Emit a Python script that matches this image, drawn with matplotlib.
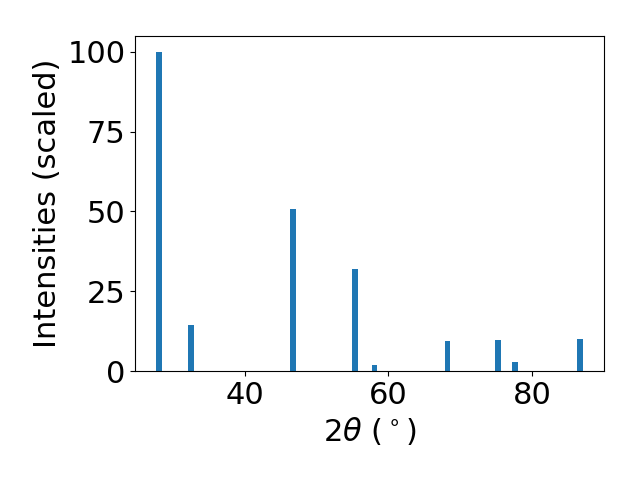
import matplotlib
matplotlib.use("Agg")
import matplotlib.pyplot as plt

two_theta = [28.04, 32.52, 46.71, 55.38, 58.04, 68.25, 75.31, 77.62, 86.71]
intensities = [100.0, 14.4, 50.8, 32.0, 1.9, 9.4, 9.7, 2.8, 10.0]

plt.rcParams['font.size'] = 22
fig, ax = plt.subplots(figsize=(6.4, 4.8), dpi=100)
ax.bar(two_theta, intensities, width=0.8, color='#1f77b4')
ax.set_xlabel(r'$2\theta$ ($^\circ$)')
ax.set_ylabel('Intensities (scaled)')
ax.set_yticks([0, 25, 50, 75, 100])
fig.subplots_adjust(left=0.211, right=0.944, top=0.925, bottom=0.227)
fig.savefig('out.png')
